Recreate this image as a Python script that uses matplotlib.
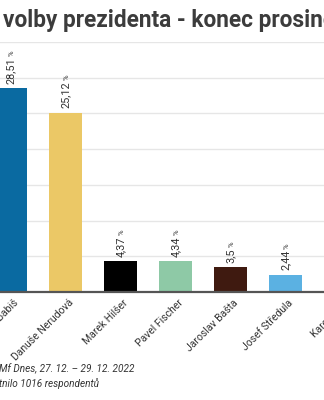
import matplotlib
matplotlib.use("Agg")
import matplotlib.pyplot as plt

plt.rcParams['font.family'] = ['Roboto', 'DejaVu Sans']

candidates = ["Andrej Babiš", "Danuše Nerudová", "Marek Hilšer", "Pavel Fischer",
              "Jaroslav Bašta", "Josef Středula", "Karel Diviš"]
values = [28.51, 25.12, 4.37, 4.34, 3.5, 2.44, 1.5]
value_labels = ["28,51", "25,12", "4,37", "4,34", "3,5", "2,44", "1,5"]
colors = ["#0a6aa1", "#ebc866", "#000000", "#8ec9a6", "#3f1a10", "#5bb1e2", "#9a9a9a"]
yticks = [0, 5, 10, 15, 20, 25, 30, 35]

title = "volby prezidenta - konec prosince"
source1 = "Mf Dnes, 27. 12. – 29. 12. 2022"
source2 = "tnilo 1016 respondentů"

W, H = 324, 400
fig = plt.figure(figsize=(W / 100, H / 100), dpi=100)
fig.patch.set_facecolor("white")

# axes: x from 0 to 324 px, y baseline at 292 px, 35% at 42 px
ax = fig.add_axes([0, (H - 292) / H, 1, (292 - 42) / H])
x = list(range(len(candidates)))
ax.bar(x, values, width=0.6, color=colors, zorder=3)
ax.set_yticks(yticks)
ax.set_xticks([])
ax.set_xlim(-10.5 / 55, (W - 10.5) / 55)
ax.set_ylim(0, 35)
ax.yaxis.grid(True, color="#e6e6e6", linewidth=1.0, zorder=0)
ax.tick_params(axis="y", left=False, labelleft=False)
for s in ["top", "right", "left"]:
    ax.spines[s].set_visible(False)
ax.spines["bottom"].set_color("#555555")
ax.spines["bottom"].set_linewidth(1.6)
ax.spines["bottom"].set_zorder(4)

for xi, name in zip(x, candidates):
    ax.annotate(name, xy=(xi, 0), xytext=(2, -4), textcoords="offset points",
                rotation=45, ha="right", va="top", rotation_mode="anchor",
                fontsize=7.5, color="#333333", annotation_clip=False)

for xi, v, lab in zip(x, values, value_labels):
    t = ax.annotate(lab, xy=(xi, v), xytext=(0, 3), textcoords="offset points",
                    rotation=90, ha="center", va="bottom", fontsize=7.8,
                    color="#333333", zorder=5, annotation_clip=True)
    ax.annotate("%", xy=(0.6, 1), xycoords=t, xytext=(0, 1),
                textcoords="offset points", rotation=90, ha="center",
                va="bottom", fontsize=5.5, color="#333333", zorder=5,
                annotation_clip=True)

fig.text(3 / W, 1 - 27 / H, title, fontsize=16.3, fontweight="bold",
         color="#3c3c3c", ha="left", va="baseline")

fig.text(-1 / W, 1 - 372 / H, source1, fontsize=7.2, style="italic",
         color="#333333", ha="left", va="baseline")
fig.text(-1 / W, 1 - 387 / H, source2, fontsize=7.2, style="italic",
         color="#333333", ha="left", va="baseline")

fig.savefig("out.png", dpi=100, facecolor="white")
